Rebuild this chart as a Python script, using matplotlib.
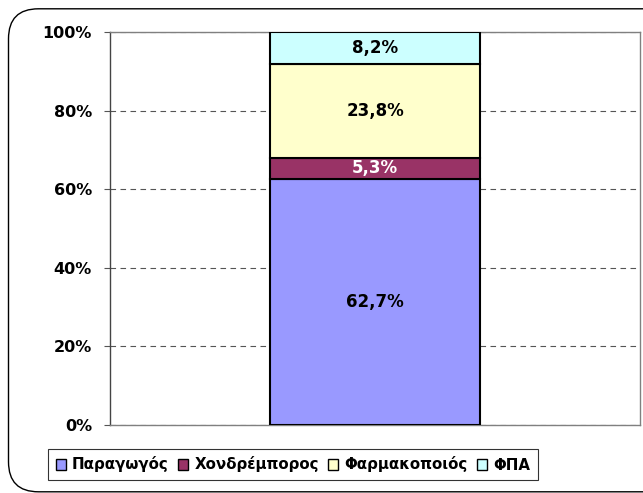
import matplotlib.pyplot as plt
from matplotlib.patches import FancyBboxPatch, Patch
from matplotlib.ticker import FuncFormatter

categories = ['Παραγωγός', 'Χονδρέμπορος', 'Φαρμακοποιός', 'ΦΠΑ']
values = [62.7, 5.3, 23.8, 8.2]
labels = ['62,7%', '5,3%', '23,8%', '8,2%']
colors = ['#9999FF', '#993366', '#FFFFCC', '#CCFFFF']
text_colors = ['black', 'white', 'black', 'black']

fig = plt.figure(figsize=(6.43, 4.93), dpi=100)

# rounded outer border of the chart area (runs off the right edge)
border = FancyBboxPatch((0.085, 0.012), 7.0, 4.83,
                        boxstyle='round,pad=0,rounding_size=0.3',
                        transform=fig.dpi_scale_trans, facecolor='white',
                        edgecolor='black', linewidth=1.0, zorder=-10)
fig.patches.append(border)

ax = fig.add_axes([110 / 643, 68 / 493, 530 / 643, 393 / 493])
ax.set_facecolor('white')
ax.set_zorder(2)

bottom = 0
for v, lab, c, tc in zip(values, labels, colors, text_colors):
    ax.bar(0, v, width=0.796, bottom=bottom, color=c, edgecolor='black',
           linewidth=1.5, zorder=3)
    ax.text(0, bottom + v / 2, lab, ha='center', va='center',
            fontsize=12, fontweight='bold', color=tc, zorder=4)
    bottom += v

ax.set_xlim(-1, 1)
ax.set_ylim(0, 100)
ax.set_yticks([0, 20, 40, 60, 80, 100])
ax.yaxis.set_major_formatter(FuncFormatter(lambda y, p: f'{int(y)}%'))
ax.set_xticks([])
for t in ax.get_yticklabels():
    t.set_fontweight('bold')
    t.set_fontsize(11.5)
ax.tick_params(axis='y', length=4, width=0.8, color='#555555', pad=9)
ax.grid(True, axis='y', linestyle=(0, (5, 4)), color='#555555',
        linewidth=0.8, zorder=1)
for s in ax.spines.values():
    s.set_color('#808080')
    s.set_linewidth(1.0)
ax.spines['left'].set_color('#444444')

handles = [Patch(facecolor=c, edgecolor='black', linewidth=1.0) for c in colors]
leg = fig.legend(handles, categories, loc='lower left',
                 bbox_to_anchor=(48 / 643, 13 / 493), ncol=4,
                 prop={'weight': 'bold', 'size': 10.8}, frameon=True,
                 fancybox=False, edgecolor='black', handlelength=0.7,
                 handleheight=0.7, handletextpad=0.4, columnspacing=0.6,
                 borderpad=0.5, borderaxespad=0)
leg.get_frame().set_linewidth(0.8)
leg.set_zorder(3)

fig.savefig('out.png', dpi=100)
